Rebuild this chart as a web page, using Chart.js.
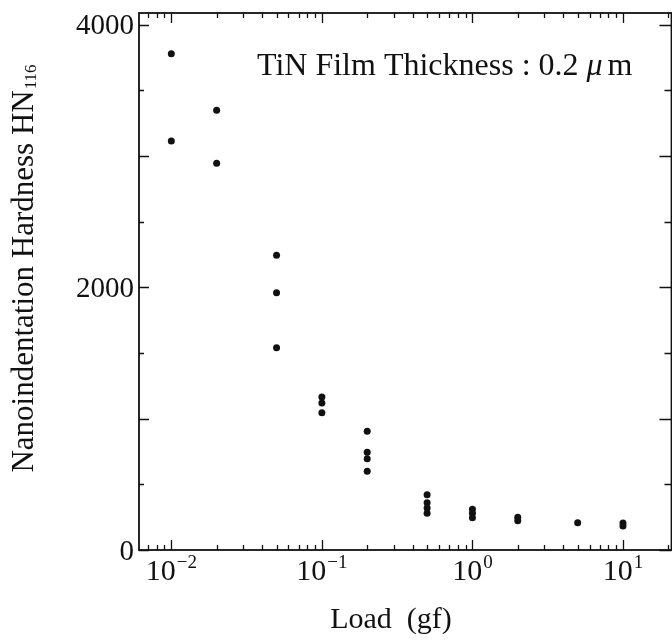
<!DOCTYPE html>
<html>
<head>
<meta charset="utf-8">
<script src="https://cdn.jsdelivr.net/npm/chart.js@4.4.1/dist/chart.umd.min.js"></script>
<style>
  html, body { margin: 0; padding: 0; background: #fff; overflow: hidden; }
  canvas { display: block; }
</style>
</head>
<body>
<!-- a little wider than the window: the right frame sits just past the edge, as in the scan -->
<canvas id="c" width="675" height="641"></canvas>
<script>
// load (gf) and the measured hardness values at each load
const loads = [0.01, 0.02, 0.05, 0.1, 0.2, 0.5, 1, 2, 5, 10];
const hardness = [
  [3780, 3115],
  [3350, 2945],
  [2245, 1960, 1540],
  [1165, 1120, 1045],
  [905, 745, 695, 600],
  [420, 360, 320, 280],
  [310, 280, 245],
  [250, 222],
  [208],
  [205, 183]
];
const xDecades = [0.01, 0.1, 1, 10];
const xExponents = ['\u22122', '\u22121', '0', '1'];
const yLabels = [0, 2000, 4000];

const serif = '"Liberation Serif", "Times New Roman", serif';

const points = [];
loads.forEach((l, i) => hardness[i].forEach(h => points.push({ x: l, y: h })));

// frame, inward ticks on all four sides, and the tick/axis texts
const framePlugin = {
  id: 'frame',
  beforeDatasetsDraw(chart) {
    const { ctx, chartArea: a, scales: { x, y } } = chart;
    ctx.save();
    ctx.strokeStyle = '#111';
    ctx.lineWidth = 1.8;
    ctx.strokeRect(a.left, a.top, a.right - a.left, a.bottom - a.top);

    ctx.lineWidth = 1.3;
    ctx.beginPath();
    for (let e = -3; e <= 1; e++) {
      for (let m = 1; m <= 9; m++) {
        const v = m * Math.pow(10, e);
        if (v < x.min || v > x.max) continue;
        const px = Math.round(x.getPixelForValue(v)) + 0.5;
        const len = m === 1 ? 10 : 5;
        ctx.moveTo(px, a.bottom); ctx.lineTo(px, a.bottom - len);
        ctx.moveTo(px, a.top); ctx.lineTo(px, a.top + len);
      }
    }
    for (let v = 0; v <= y.max; v += 500) {
      const py = Math.round(y.getPixelForValue(v)) + 0.5;
      const len = v % 1000 === 0 ? 10 : 5;
      ctx.moveTo(a.left, py); ctx.lineTo(a.left + len, py);
      ctx.moveTo(a.right, py); ctx.lineTo(a.right - len - 2, py);
    }
    ctx.stroke();
    ctx.restore();
  },
  afterDraw(chart) {
    const { ctx, chartArea: a, scales: { x, y } } = chart;
    ctx.save();
    ctx.fillStyle = '#111';
    ctx.textBaseline = 'alphabetic';
    ctx.textAlign = 'left';

    // x tick labels 10^n
    xDecades.forEach((v, i) => {
      const px = x.getPixelForValue(v);
      ctx.font = '30px ' + serif;
      const w1 = ctx.measureText('10').width;
      ctx.font = '19px ' + serif;
      const w2 = ctx.measureText(xExponents[i]).width;
      const start = px - (w1 + w2 + 1) / 2;
      ctx.font = '30px ' + serif;
      ctx.fillText('10', start, a.bottom + 30);
      ctx.font = '19px ' + serif;
      ctx.fillText(xExponents[i], start + w1 + 1, a.bottom + 18);
    });

    // y tick labels
    ctx.font = '29px ' + serif;
    ctx.textAlign = 'right';
    ctx.textBaseline = 'middle';
    yLabels.forEach(v => {
      ctx.fillText(String(v), a.left - 5, y.getPixelForValue(v) + 2);
    });
    ctx.textBaseline = 'alphabetic';

    // x title
    ctx.font = '30px ' + serif;
    ctx.textAlign = 'center';
    ctx.fillText('Load  (gf)', a.left + 252, a.bottom + 78);
    ctx.textAlign = 'left';

    // y title with subscript
    ctx.save();
    ctx.translate(33, (a.top + a.bottom) / 2 - 13);
    ctx.rotate(-Math.PI / 2);
    const main = 'Nanoindentation Hardness HN';
    ctx.font = '31px ' + serif;
    const m1 = ctx.measureText(main).width;
    ctx.font = '17px ' + serif;
    const m2 = ctx.measureText('116').width;
    const s = -(m1 + m2 + 1) / 2;
    ctx.font = '31px ' + serif;
    ctx.fillText(main, s, 0);
    ctx.font = '17px ' + serif;
    ctx.fillText('116', s + m1 + 1, 3);
    ctx.restore();

    // annotation
    const tx = a.left + 118, ty = a.top + 62;
    ctx.font = '32px ' + serif;
    const head = 'TiN Film Thickness : 0.2 ';
    ctx.fillText(head, tx, ty);
    let cx = tx + ctx.measureText(head).width;
    ctx.font = 'italic 32px ' + serif;
    ctx.fillText('\u03bc', cx, ty);
    cx += ctx.measureText('\u03bc').width + 5;
    ctx.font = '32px ' + serif;
    ctx.fillText('m', cx, ty);
    ctx.restore();
  }
};

new Chart(document.getElementById('c'), {
  type: 'scatter',
  data: {
    datasets: [{
      data: points,
      backgroundColor: '#111',
      borderWidth: 0,
      pointRadius: 3.5,
      pointHoverRadius: 3.5
    }]
  },
  options: {
    responsive: false,
    animation: false,
    devicePixelRatio: 1,
    layout: { padding: { top: 13, right: 0, left: 0, bottom: 0 } },
    plugins: { legend: { display: false }, tooltip: { enabled: false } },
    scales: {
      x: {
        type: 'logarithmic',
        min: 0.0061,
        max: 21,
        grid: { display: false, drawTicks: false },
        border: { display: false },
        ticks: { display: false },
        afterFit(scale) {
          scale.height = 91;
          scale.paddingLeft = 0;
          scale.paddingRight = 0;
        }
      },
      y: {
        type: 'linear',
        min: 0,
        max: 4090,
        grid: { display: false, drawTicks: false },
        border: { display: false },
        ticks: { display: false },
        afterFit(scale) {
          scale.width = 139;
          scale.paddingTop = 0;
          scale.paddingBottom = 0;
        }
      }
    }
  },
  plugins: [framePlugin]
});
</script>
</body>
</html>
